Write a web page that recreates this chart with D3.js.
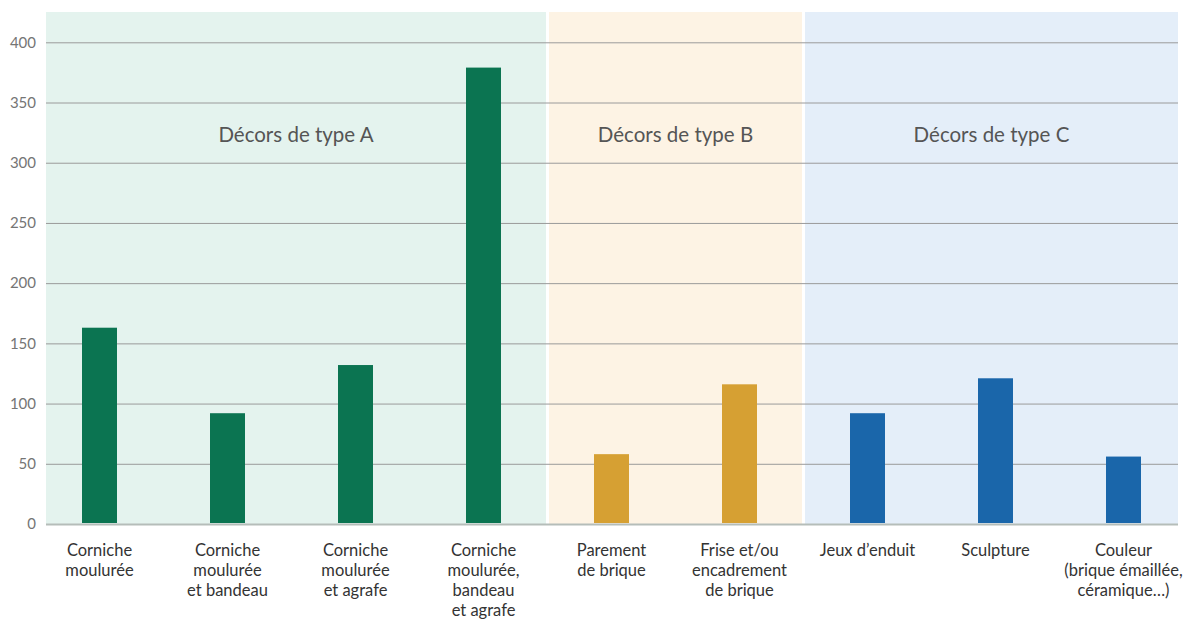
<!DOCTYPE html>
<html>
<head>
<meta charset="utf-8">
<script src="https://cdnjs.cloudflare.com/ajax/libs/d3/7.8.5/d3.min.js"></script>
<style>
  body { margin: 0; background: #fff; }
  text { font-family: Lato, "Open Sans", sans-serif; }
</style>
</head>
<body>
<div id="chart-area"></div>
<script>

// Data
var categories = [
  ["Corniche", "moulurée"],
  ["Corniche", "moulurée", "et bandeau"],
  ["Corniche", "moulurée", "et agrafe"],
  ["Corniche", "moulurée,", "bandeau", "et agrafe"],
  ["Parement", "de brique"],
  ["Frise et/ou", "encadrement", "de brique"],
  ["Jeux d\u2019enduit"],
  ["Sculpture"],
  ["Couleur", "(brique émaillée,", "céramique…)"]
];
var values = [163, 92, 132, 379, 58, 116, 92, 121, 56];
var groupOf = [0, 0, 0, 0, 1, 1, 2, 2, 2];

var groupNames = ["Décors de type A", "Décors de type B", "Décors de type C"];
var groupStart = [0, 4, 6];
var groupEnd = [3, 5, 8];
var barColors = ["#0b7451", "#d6a033", "#1a66aa"];
var bgColors = ["#e4f3ee", "#fdf3e4", "#e4eef9"];
var yTicks = [0, 50, 100, 150, 200, 250, 300, 350, 400];

// SVG drawing area
var W = 1186, H = 619;
var plotLeft = 46, plotRight = 1178, plotTop = 12, plotBottom = 524;

var svg = d3.select("#chart-area").append("svg")
    .attr("width", W)
    .attr("height", H);

// Scales
var x = d3.scaleBand()
    .domain(d3.range(values.length))
    .range([35.5, 1187.5])
    .paddingInner(1 - 35 / 128)
    .paddingOuter((1 - 35 / 128) / 2);

var y = d3.scaleLinear()
    .domain([0, 400])
    .range([plotBottom, 42.3]);

var step = x.step();
function bandLeft(i) { return x(i) + x.bandwidth() / 2 - step / 2; }

// panel extents (clamped to plot)
var panels = groupNames.map(function(name, g) {
  var x0 = Math.max(plotLeft, bandLeft(groupStart[g]));
  var x1 = Math.min(plotRight, bandLeft(groupEnd[g]) + step);
  if (g > 0) x0 += 1.5;
  if (g < groupNames.length - 1) x1 -= 1.5;
  return [x0, x1];
});

// Group backgrounds
panels.forEach(function(p, g) {
  svg.append("rect")
      .attr("x", p[0])
      .attr("y", plotTop)
      .attr("width", p[1] - p[0])
      .attr("height", plotBottom - plotTop)
      .attr("fill", bgColors[g]);
});

// Grid lines + y axis
var yAxis = d3.axisLeft(y)
    .tickValues(yTicks)
    .tickSize(-(plotRight - plotLeft))
    .tickPadding(10);

var gy = svg.append("g")
    .attr("transform", "translate(" + plotLeft + ",0)")
    .call(yAxis);
gy.select(".domain").remove();
gy.selectAll(".tick line")
    .attr("stroke", function(d) { return d === 0 ? "#b5bdb9" : "#9a9a9a"; })
    .attr("stroke-width", function(d) { return d === 0 ? 2 : 1; });
gy.selectAll(".tick text")
    .attr("fill", "#757575")
    .style("font-size", "15px")
    .attr("x", -10);

// Bars
svg.selectAll(".bar")
    .data(values)
  .enter().append("rect")
    .attr("class", "bar")
    .attr("x", function(d, i) { return x(i); })
    .attr("width", x.bandwidth())
    .attr("y", function(d) { return y(d); })
    .attr("height", function(d) { return y(0) - y(d) - 1; })
    .attr("fill", function(d, i) { return barColors[groupOf[i]]; });

// Group titles
panels.forEach(function(p, g) {
  svg.append("text")
      .attr("x", (p[0] + p[1]) / 2)
      .attr("y", 142)
      .attr("text-anchor", "middle")
      .attr("fill", "#555")
      .style("font-size", "20.5px")
      .text(groupNames[g]);
});

// Category labels
var labels = svg.selectAll(".cat")
    .data(categories)
  .enter().append("text")
    .attr("class", "cat")
    .attr("text-anchor", "middle")
    .attr("fill", "#333")
    .style("font-size", "16.5px");

labels.each(function(lines, i) {
  var t = d3.select(this);
  lines.forEach(function(line, k) {
    t.append("tspan")
        .attr("x", x(i) + x.bandwidth() / 2)
        .attr("y", 556 + k * 20)
        .text(line);
  });
});

</script>
</body>
</html>
